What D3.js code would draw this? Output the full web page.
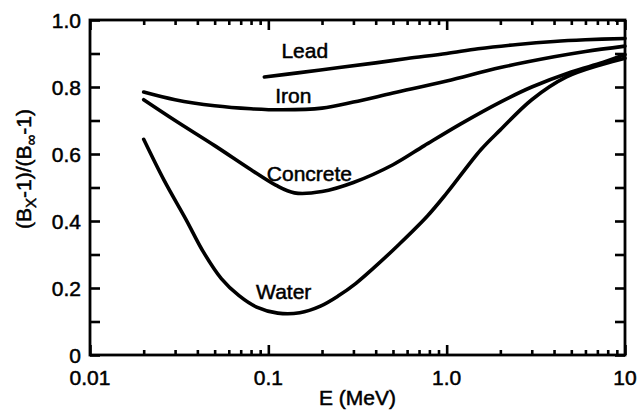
<!DOCTYPE html>
<html>
<head>
<meta charset="utf-8">
<script src="https://cdn.jsdelivr.net/npm/d3@7"></script>
<style>
  body { margin: 0; background: #fff; }
  text { font-family: "Liberation Sans", Arial, sans-serif; fill: #000; stroke: #000; stroke-width: 0.5; }
</style>
</head>
<body>
<script>
// curves
var leadE = [0.095, 0.15, 0.25, 0.4, 0.6, 1.0, 1.5, 2.5, 4, 6, 10];
var leadR = [0.83, 0.843, 0.858, 0.872, 0.885, 0.9, 0.914, 0.927, 0.936, 0.941, 0.945];

var ironE = [0.02, 0.03, 0.05, 0.08, 0.12, 0.2, 0.3, 0.5, 1, 2, 4, 6, 10];
var ironR = [0.785, 0.762, 0.744, 0.735, 0.732, 0.737, 0.755, 0.782, 0.818, 0.858, 0.89, 0.906, 0.922];

var concreteE = [0.02, 0.03, 0.05, 0.08, 0.11, 0.14, 0.2, 0.3, 0.5, 0.75, 1.2, 2, 3, 5, 7.5, 10];
var concreteR = [0.762, 0.70, 0.625, 0.553, 0.507, 0.484, 0.488, 0.515, 0.568, 0.625, 0.69, 0.755, 0.80, 0.845, 0.873, 0.897];

var waterE = [0.02, 0.026, 0.0345, 0.0433, 0.0545, 0.0685, 0.086, 0.113, 0.15, 0.196, 0.246, 0.31, 0.39, 0.54, 0.78, 1.0, 1.55, 2.0, 3.0, 4.7, 7.5, 10];
var waterR = [0.644, 0.522, 0.405, 0.307, 0.228, 0.177, 0.143, 0.125, 0.126, 0.146, 0.176, 0.214, 0.26, 0.33, 0.415, 0.483, 0.612, 0.672, 0.762, 0.83, 0.868, 0.886];

// curve names and where they sit on the chart (E, ratio)
var labelNames = ["Lead", "Iron", "Concrete", "Water"];
var labelE = [0.16, 0.138, 0.17, 0.122];
var labelR = [0.887, 0.752, 0.52, 0.167];

var xMajor = [0.01, 0.1, 1, 10];
var xMajorText = ["0.01", "0.1", "1.0", "10"];
var yTicks = [0, 0.1, 0.2, 0.3, 0.4, 0.5, 0.6, 0.7, 0.8, 0.9, 1.0];
var yLabels = [0, 0.2, 0.4, 0.6, 0.8, 1.0];
var yLabelText = ["0", "0.2", "0.4", "0.6", "0.8", "1.0"];

function drawChart() {
  var width = 644,
      height = 411,
      left = 90, right = 625, top = 20, bottom = 355;

  var svg = d3.select("body").append("svg")
      .attr("width", width)
      .attr("height", height);

  var x = d3.scaleLog().domain([0.01, 10]).range([left, right]);
  var y = d3.scaleLinear().domain([0, 1]).range([bottom, top]);

  // minor ticks 2..9 in every decade
  var xMinor = [];
  xMajor.slice(0, -1).forEach(function(d) {
    for (var k = 2; k < 10; k++) xMinor.push(d * k);
  });

  function tickLines(axis, vals, len, shift) {
    svg.append("g")
        .attr("transform", shift)
        .call(axis.tickValues(vals).tickSize(len).tickFormat(""))
        .call(function(g) { g.select(".domain").remove(); })
        .selectAll("line")
          .attr("stroke", "#000")
          .attr("stroke-width", 2.6);
  }

  tickLines(d3.axisBottom(x), xMinor, -5, "translate(0," + bottom + ")");
  tickLines(d3.axisBottom(x), xMajor, -10, "translate(0," + bottom + ")");
  tickLines(d3.axisTop(x), xMinor, -5, "translate(0," + top + ")");
  tickLines(d3.axisTop(x), xMajor, -10, "translate(0," + top + ")");
  tickLines(d3.axisLeft(y), yTicks, -10, "translate(" + left + ",0)");
  tickLines(d3.axisRight(y), yTicks, -10, "translate(" + right + ",0)");

  svg.append("rect")
      .attr("x", left).attr("y", top)
      .attr("width", right - left).attr("height", bottom - top)
      .attr("fill", "none")
      .attr("stroke", "#000")
      .attr("stroke-width", 2.8);

  // tick labels
  svg.selectAll(".xlab")
    .data(xMajor)
    .enter().append("text")
      .attr("x", function(d) { return x(d); })
      .attr("y", bottom + 30)
      .attr("text-anchor", "middle")
      .attr("font-size", 21)
      .text(function(d, i) { return xMajorText[i]; });

  svg.selectAll(".ylab")
    .data(yLabels)
    .enter().append("text")
      .attr("x", left - 9)
      .attr("y", function(d) { return y(d); })
      .attr("dy", "0.36em")
      .attr("text-anchor", "end")
      .attr("font-size", 21)
      .text(function(d, i) { return yLabelText[i]; });

  // axis titles
  svg.append("text")
      .attr("x", (left + right) / 2)
      .attr("y", 405)
      .attr("text-anchor", "middle")
      .attr("font-size", 21)
      .text("E (MeV)");

  var ytitle = svg.append("text")
      .attr("transform", "translate(31," + 169 + ") rotate(-90)")
      .attr("text-anchor", "middle")
      .attr("font-size", 21);
  ytitle.append("tspan").text("(B");
  ytitle.append("tspan").attr("font-size", 15).attr("dy", 5).text("X");
  ytitle.append("tspan").attr("dy", -5).text("-1)/(B");
  ytitle.append("tspan").attr("font-size", 15).attr("dy", 5).text("\u221E");
  ytitle.append("tspan").attr("dy", -5).text("-1)");

  // curves
  var line = d3.line()
      .x(function(d) { return x(d[0]); })
      .y(function(d) { return y(d[1]); })
      .curve(d3.curveCatmullRom.alpha(0.5));

  var series = [
    d3.zip(leadE, leadR),
    d3.zip(ironE, ironR),
    d3.zip(concreteE, concreteR),
    d3.zip(waterE, waterR)
  ];

  svg.selectAll(".curve")
    .data(series)
    .enter().append("path")
      .attr("class", "curve")
      .attr("d", line)
      .attr("fill", "none")
      .attr("stroke", "#000")
      .attr("stroke-width", 3.6)
      .attr("stroke-linecap", "round");

  svg.selectAll(".curve-label")
    .data(labelNames)
    .enter().append("text")
      .attr("x", function(d, i) { return x(labelE[i]); })
      .attr("y", function(d, i) { return y(labelR[i]); })
      .attr("text-anchor", "middle")
      .attr("font-size", 21)
      .text(function(d) { return d; });
}

drawChart();
</script>
</body>
</html>
